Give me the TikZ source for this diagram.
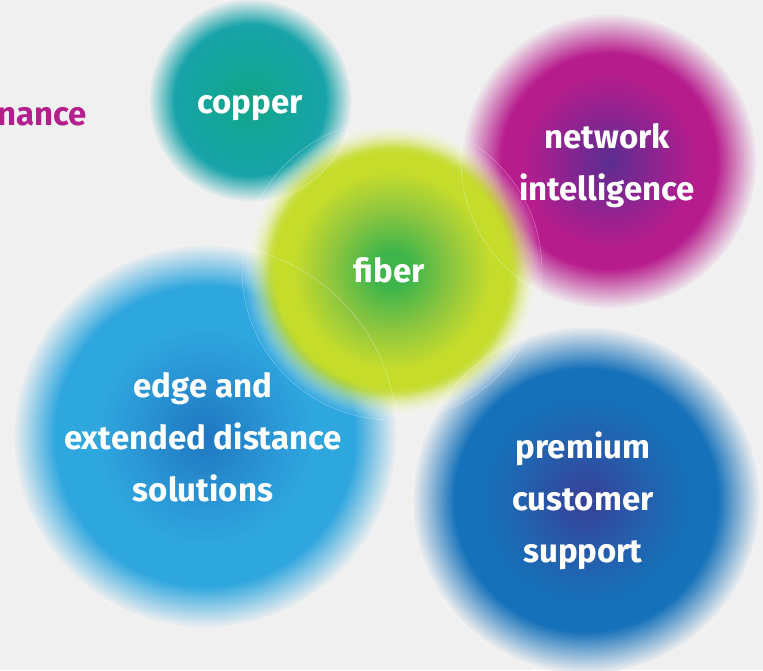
\documentclass[tikz,border=0pt]{standalone}
\usepackage{fontspec}
\setmainfont{Fira Sans}
\usetikzlibrary{fadings}

\definecolor{bgray}{HTML}{F0F0F0}
\definecolor{ncmagenta}{HTML}{B31F8C}
\definecolor{copin}{HTML}{12A484}
\definecolor{copmid}{HTML}{14A59C}
\definecolor{copout}{HTML}{17A3A8}
\definecolor{netin}{HTML}{5A2D90}
\definecolor{netmid}{HTML}{8E2490}
\definecolor{netout}{HTML}{B71C8C}
\definecolor{edgein}{HTML}{1F76C0}
\definecolor{edgemid}{HTML}{2A97D5}
\definecolor{edgeout}{HTML}{2EA6DE}
\definecolor{premin}{HTML}{383F98}
\definecolor{premmid}{HTML}{2361AE}
\definecolor{premout}{HTML}{1571B9}
\definecolor{fibin}{HTML}{3DB54A}
\definecolor{fibmid}{HTML}{8DC63F}
\definecolor{fibout}{HTML}{C6DC2B}

\pgfdeclareradialshading{copshade}{\pgfpointorigin}{color(0bp)=(copin); color(10bp)=(copmid); color(18.5bp)=(copout); color(25bp)=(bgray); color(50bp)=(bgray)}
\pgfdeclareradialshading{netshade}{\pgfpointorigin}{color(0bp)=(netin); color(8bp)=(netmid); color(15bp)=(netout); color(18.2bp)=(netout); color(25bp)=(bgray); color(50bp)=(bgray)}
\pgfdeclareradialshading{edgeshade}{\pgfpointorigin}{color(0bp)=(edgein); color(9bp)=(edgemid); color(14bp)=(edgeout); color(19.5bp)=(edgeout); color(25bp)=(bgray); color(50bp)=(bgray)}
\pgfdeclareradialshading{premshade}{\pgfpointorigin}{color(0bp)=(premin); color(9bp)=(premmid); color(15bp)=(premout); color(18.9bp)=(premout); color(25bp)=(bgray); color(50bp)=(bgray)}
\pgfdeclareradialshading{fibshade}{\pgfpointorigin}{color(0bp)=(fibin); color(3bp)=(fibin); color(10bp)=(fibmid); color(16.5bp)=(fibout); color(20.5bp)=(fibout); color(24.5bp)=(white); color(50bp)=(white)}
\pgfdeclareradialshading{fibfadeshade}{\pgfpointorigin}{color(0bp)=(pgftransparent!0); color(19.5bp)=(pgftransparent!0); color(25bp)=(pgftransparent!100); color(50bp)=(pgftransparent!100)}
\pgfdeclarefading{fibfade}{\pgfuseshading{fibfadeshade}}

\begin{document}
\begin{tikzpicture}[x=1pt,y=-1pt,
	lbl/.style={text=white,font=\bfseries\fontsize{33}{52}\selectfont,align=center,inner sep=0},
	rim/.style={draw=white,opacity=.45,line width=.4pt}]
	\fill[bgray] (0,0) rectangle (763,670);
	\useasboundingbox (0,0) rectangle (763,670);
	\node[lbl,text=ncmagenta,anchor=base east] (nance) at (87,125) {nance};
	\shade[shading=copshade] (250,100) circle (102);
	\shade[shading=netshade] (609,161) circle (148);
	\shade[shading=edgeshade] (205,436) circle (192);
	\shade[shading=premshade] (586,500) circle (174);
	\shade[shading=fibshade,path fading=fibfade] (392,270) circle (150);
	\draw[rim] (250,100) circle (102);
	\draw[rim] (609,161) circle (148);
	\draw[rim] (205,436) circle (192);
	\draw[rim] (586,500) circle (174);
	\draw[rim] (392,270) circle (150);
	\node[lbl,anchor=base] (copper) at (250,113) {copper};
	\node[lbl] (netint) at (607,166) {network\\intelligence};
	\node[lbl,anchor=base] (fiber) at (389,282) {fiber};
	\node[lbl] (edge) at (203,437) {edge and\\extended distance\\solutions};
	\node[lbl] (premium) at (583,501) {premium\\customer\\support};
\end{tikzpicture}
\end{document}
